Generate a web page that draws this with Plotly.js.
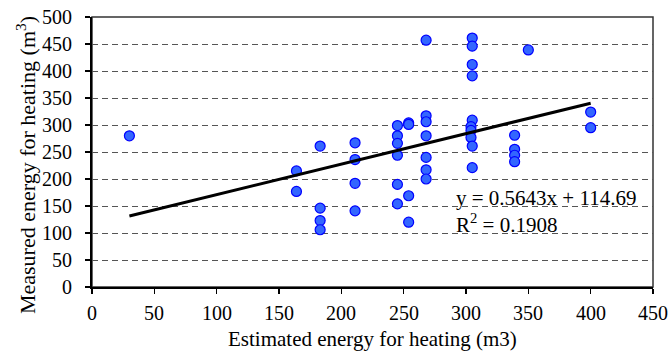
<!DOCTYPE html>
<html>
<head>
<meta charset="utf-8">
<script src="https://cdn.plot.ly/plotly-3.0.1.min.js"></script>
<style>html,body{margin:0;padding:0;background:#fff;}#chart{width:670px;height:353px;}</style>
</head>
<body>
<div id="chart"></div>
<script>
// Estimated energy (x) and measured energy (y)
const estimated = [
  30,
  164, 164,
  183, 183, 183, 183,
  211, 211, 211, 211,
  245, 245, 245, 245, 245, 245,
  254, 254, 254, 254,
  268, 268, 268, 268, 268, 268, 268,
  305, 305, 305, 305, 305, 304, 304, 304, 305, 305,
  339, 339, 339, 339,
  350,
  400, 400
];
const measured = [
  280,
  215, 177,
  261, 146, 123, 106,
  267, 236, 192, 141,
  299, 280, 266, 244, 190, 154,
  304, 301, 169, 120,
  457, 317, 306, 280, 240, 217, 200,
  461, 446, 412, 391, 309, 297, 290, 277, 261, 221,
  281, 255, 244, 232,
  439,
  324, 295
];
// Linear trend shown on the chart
const trendSlope = 0.5643;
const trendIntercept = 114.69;
const trendX = [30, 400];
const trendY = trendX.map(v => trendSlope * v + trendIntercept);
const xTicks = [0, 50, 100, 150, 200, 250, 300, 350, 400, 450];
const yTicks = [0, 50, 100, 150, 200, 250, 300, 350, 400, 450, 500];

const FAM = 'Liberation Serif';
const tickFont = {family: FAM, size: 20, color: '#000'};

const traces = [
  {
    x: estimated, y: measured, type: 'scatter', mode: 'markers',
    marker: {size: 10, color: '#3366ff', line: {color: '#0000ff', width: 1.2}},
    hoverinfo: 'x+y', showlegend: false
  },
  {
    x: trendX, y: trendY, type: 'scatter', mode: 'lines',
    line: {color: '#000', width: 3}, showlegend: false, hoverinfo: 'skip'
  }
];

// Tick labels drawn as annotations placed on the axes' own scales
const tickAnnotations = [
  ...xTicks.map(v => ({
    x: v, xref: 'x', y: -0.096, yref: 'paper', xanchor: 'center', yanchor: 'middle',
    text: String(v), showarrow: false, font: tickFont
  })),
  ...yTicks.map(v => ({
    x: -0.032, xref: 'paper', y: v, yref: 'y', xanchor: 'right', yanchor: 'middle',
    text: String(v), showarrow: false, font: tickFont
  }))
];

const layout = {
  width: 670, height: 353,
  margin: {l: 92, r: 17, t: 17, b: 66},
  paper_bgcolor: '#fff', plot_bgcolor: '#fff',
  font: {family: FAM, size: 20, color: '#000'},
  showlegend: false,
  xaxis: {
    range: [0, 450], tickvals: xTicks, showticklabels: false,
    showgrid: false, zeroline: false,
    showline: true, linecolor: '#000', linewidth: 2,
    ticks: 'outside', ticklen: 5, tickwidth: 1.5, tickcolor: '#000',
    automargin: false
  },
  yaxis: {
    range: [0, 500], tickvals: yTicks, showticklabels: false,
    showgrid: true, gridcolor: '#555', gridwidth: 1, griddash: '6px,4px',
    zeroline: false,
    showline: true, linecolor: '#000', linewidth: 2,
    ticks: 'outside', ticklen: 5, tickwidth: 1.5, tickcolor: '#000',
    automargin: false
  },
  shapes: [
    {type: 'rect', xref: 'paper', yref: 'paper', x0: 0, x1: 1, y0: 0, y1: 1,
     line: {color: '#333', width: 1.5}, layer: 'below'}
  ],
  annotations: [
    ...tickAnnotations,
    {x: 0.5, y: -0.193, xref: 'paper', yref: 'paper', xanchor: 'center', yanchor: 'middle',
     text: 'Estimated energy for heating (m3)', showarrow: false,
     font: {family: FAM, size: 21, color: '#000'}},
    {x: -0.1175, y: 0.452, xref: 'paper', yref: 'paper', xanchor: 'center', yanchor: 'middle',
     textangle: -90,
     text: 'Measured energy for heating (m<sup>3</sup>)', showarrow: false,
     font: {family: FAM, size: 22, color: '#000'}},
    {x: 0.646, y: 0.33, xref: 'paper', yref: 'paper', xanchor: 'left', yanchor: 'middle',
     text: 'y = 0.5643x + 114.69', showarrow: false, font: {family: FAM, size: 21, color: '#000'}},
    {x: 0.646, y: 0.237, xref: 'paper', yref: 'paper', xanchor: 'left', yanchor: 'middle',
     text: 'R<sup>2</sup> = 0.1908', showarrow: false, font: {family: FAM, size: 21, color: '#000'}}
  ]
};

Plotly.newPlot('chart', traces, layout, {displayModeBar: false, staticPlot: true});
</script>
</body>
</html>
